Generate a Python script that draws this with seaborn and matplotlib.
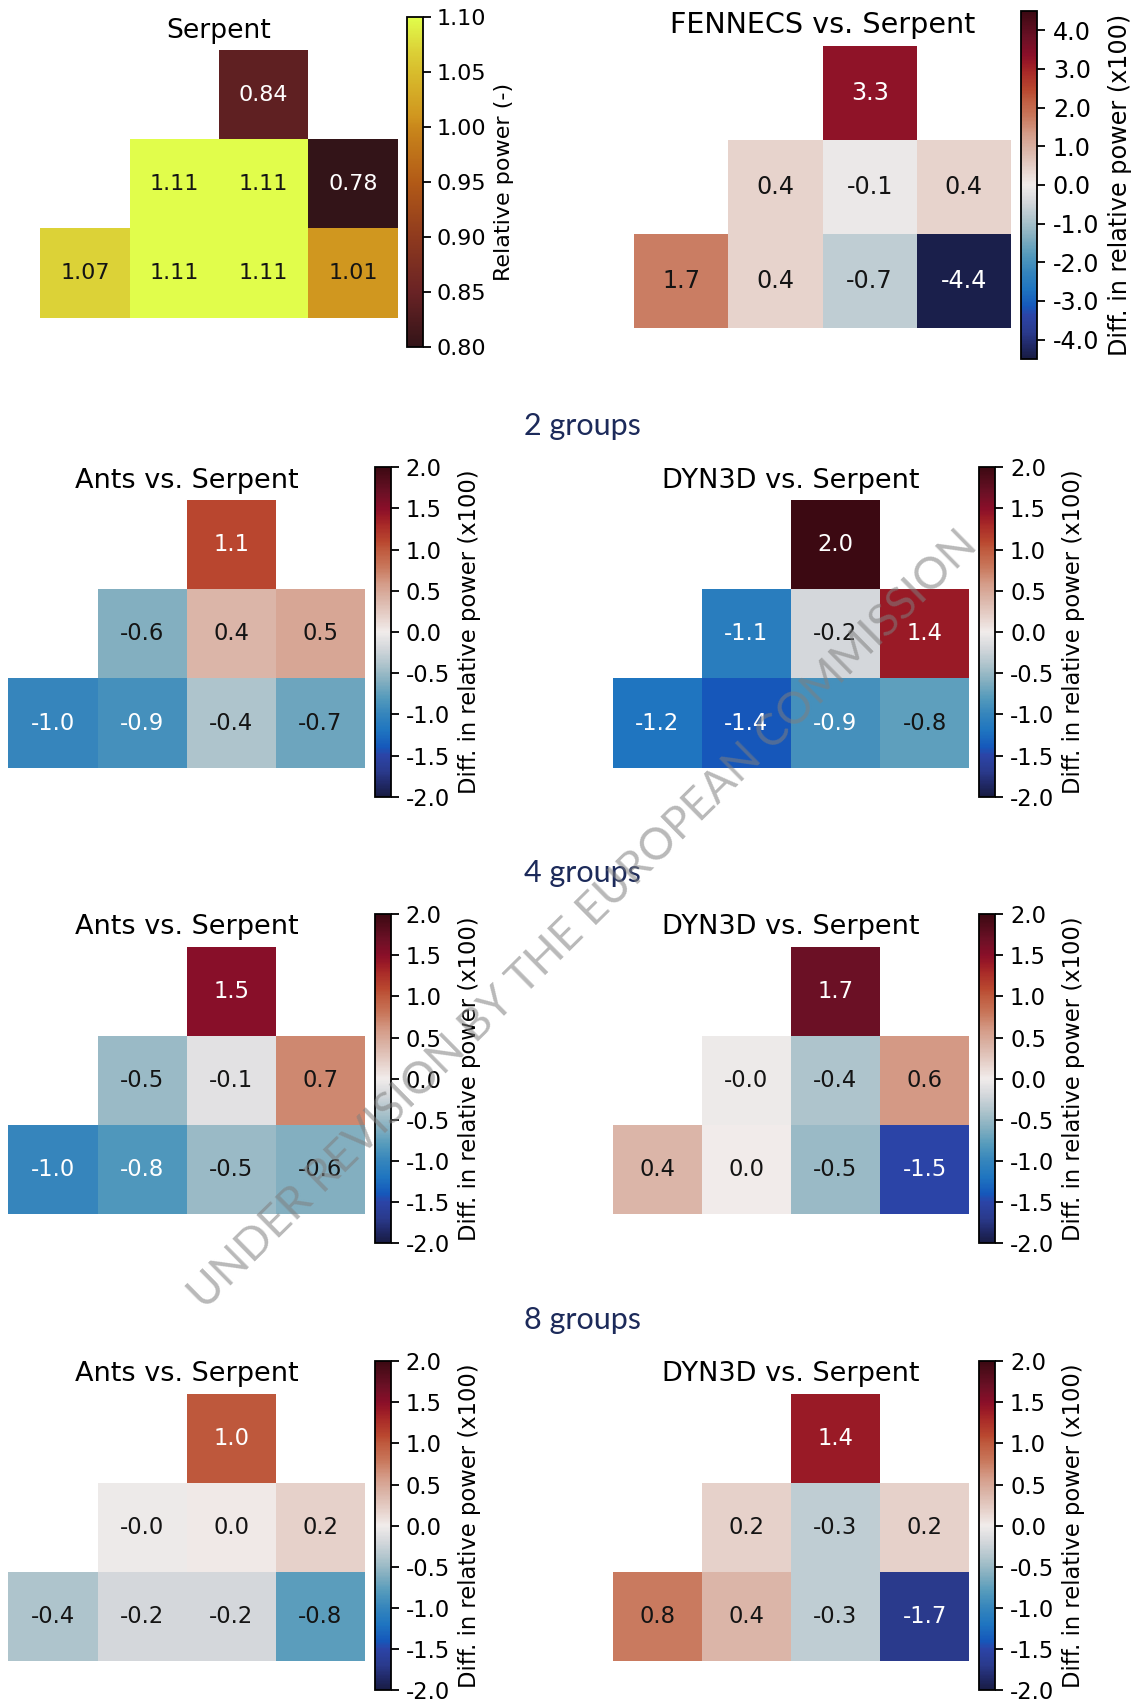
import numpy as np
import pandas as pd
import matplotlib
matplotlib.use("Agg")
import matplotlib.pyplot as plt
import seaborn as sns
from matplotlib.colors import LinearSegmentedColormap

nan = np.nan

# ---- data: quarter-core assembly maps (3 rows x 4 columns) ----
col_labels = ["A", "B", "C", "D"]

serpent_rows = [
    [nan, nan, 0.84, nan],
    [nan, 1.11, 1.11, 0.78],
    [1.07, 1.11, 1.11, 1.01],
]
fennecs_rows = [
    [nan, nan, 3.3, nan],
    [nan, 0.4, -0.1, 0.4],
    [1.7, 0.4, -0.7, -4.42],
]
ants_2g_rows = [
    [nan, nan, 1.1, nan],
    [nan, -0.6, 0.4, 0.5],
    [-1.0, -0.9, -0.4, -0.7],
]
dyn3d_2g_rows = [
    [nan, nan, 2.0, nan],
    [nan, -1.1, -0.2, 1.4],
    [-1.2, -1.4, -0.9, -0.76],
]
ants_4g_rows = [
    [nan, nan, 1.5, nan],
    [nan, -0.5, -0.1, 0.7],
    [-1.0, -0.84, -0.5, -0.6],
]
dyn3d_4g_rows = [
    [nan, nan, 1.7, nan],
    [nan, -0.02, -0.4, 0.6],
    [0.4, 0.01, -0.5, -1.5],
]
ants_8g_rows = [
    [nan, nan, 1.0, nan],
    [nan, -0.02, 0.02, 0.2],
    [-0.4, -0.2, -0.2, -0.77],
]
dyn3d_8g_rows = [
    [nan, nan, 1.4, nan],
    [nan, 0.2, -0.3, 0.2],
    [0.78, 0.4, -0.3, -1.7],
]

group_headers = ["2 groups", "4 groups", "8 groups"]
diff_label = "Diff. in relative power (x100)"
power_label = "Relative power (-)"

# ---- colormaps ----
solar_like = LinearSegmentedColormap.from_list("solar_like", [
    (0.0, "#331418"), (0.167, "#6a2325"), (0.333, "#8f3a1e"),
    (0.5, "#b25a17"), (0.667, "#c9871b"), (0.7, "#d0961f"),
    (0.833, "#d8bc2c"), (0.9, "#dcd137"), (1.0, "#e1fd4b"),
])
balance_like = LinearSegmentedColormap.from_list("balance_like", [
    (0.0, "#181c43"), (0.04, "#212a6a"), (0.075, "#2a3a8c"),
    (0.125, "#2b44a7"), (0.15, "#1558bb"), (0.2, "#1f75c0"),
    (0.25, "#3585bc"), (0.3, "#559bbc"), (0.35, "#84afc0"),
    (0.4, "#aec4cc"), (0.45, "#d3d7db"), (0.5, "#f1eceb"),
    (0.55, "#e6d0c9"), (0.6, "#dbb5a8"), (0.65, "#d49a86"),
    (0.7, "#c8765a"), (0.75, "#bf5a3e"), (0.775, "#b9472f"),
    (0.825, "#a82a28"), (0.85, "#9a1a26"), (0.875, "#8a0f29"),
    (0.925, "#6b1025"), (1.0, "#3c0912"),
])

plt.rcParams["axes.unicode_minus"] = False
plt.rcParams["font.family"] = ["DejaVu Sans"]

W, H = 1139, 1702
fig = plt.figure(figsize=(W / 100, H / 100), dpi=100)


def box(x0, y0, x1, y1):
    """Pixel box (top-left origin) -> figure fraction rect."""
    return [x0 / W, 1 - y1 / H, (x1 - x0) / W, (y1 - y0) / H]


def draw_panel(rows, title, cmap, vmin, vmax, ticks, tick_fmt, annot_fmt,
               label, heat_box, cbar_box, fs, dark_text_rule):
    grid = pd.DataFrame(rows, columns=col_labels)
    ax = fig.add_axes(box(*heat_box))
    cax = fig.add_axes(box(*cbar_box))
    sns.heatmap(grid, ax=ax, cbar_ax=cax, cmap=cmap, vmin=vmin, vmax=vmax,
                annot=True, fmt=annot_fmt, annot_kws={"size": fs},
                xticklabels=False, yticklabels=False,
                cbar_kws={"ticks": ticks, "format": tick_fmt})
    values = grid.to_numpy()
    for t in ax.texts:
        x, y = t.get_position()
        v = values[int(y), int(x)]
        t.set_color("white" if dark_text_rule(v) else "#141414")
    ax.set_title(title, fontsize=fs * 1.2, pad=fs * 0.55)
    cbar = ax.collections[0].colorbar
    cbar.outline.set_linewidth(1.3)
    cbar.outline.set_edgecolor("black")
    cbar.ax.tick_params(labelsize=fs, length=fs * 0.35, width=1.3, pad=fs * 0.3)
    cbar.set_label(label, fontsize=fs, labelpad=fs * 0.35)
    return ax


# top row: reference solution and FENNECS comparison
draw_panel(serpent_rows, "Serpent", solar_like, 0.80, 1.10,
           np.arange(0.80, 1.101, 0.05), "%.2f", ".2f", power_label,
           (40.4, 50, 397.5, 317.7), (406.5, 17.3, 422.5, 346.7), 16.0,
           lambda v: v < 0.9)
draw_panel(fennecs_rows, "FENNECS vs. Serpent", balance_like, -4.5, 4.5,
           np.arange(-4.0, 4.01, 1.0), "%.1f", ".1f", diff_label,
           (634.2, 45.7, 1010.9, 328.3), (1021, 11, 1037.3, 359), 17.2,
           lambda v: abs(v) > 1.8)

# energy-group comparisons
group_data = [
    (ants_2g_rows, dyn3d_2g_rows),
    (ants_4g_rows, dyn3d_4g_rows),
    (ants_8g_rows, dyn3d_8g_rows),
]
row_tops = [500.0, 946.7, 1393.7]
diff_ticks = np.arange(-2.0, 2.01, 0.5)
for header, (ants_rows, dyn_rows), top in zip(group_headers, group_data, row_tops):
    fig.text(582 / W, 1 - (top - 65) / H, header, ha="center", va="baseline",
             family="Lato", fontsize=22, color="#1c2a5a")
    draw_panel(ants_rows, "Ants vs. Serpent", balance_like, -2.0, 2.0,
               diff_ticks, "%.1f", ".1f", diff_label,
               (8.4, top, 365.0, top + 267.6), (375, top - 32.7, 391, top + 296.7),
               16.3, lambda v: abs(v) > 0.8)
    draw_panel(dyn_rows, "DYN3D vs. Serpent", balance_like, -2.0, 2.0,
               diff_ticks, "%.1f", ".1f", diff_label,
               (612.5, top, 969.1, top + 267.6), (978.9, top - 32.7, 995.3, top + 296.7),
               16.3, lambda v: abs(v) > 0.8)

# review watermark across the page
fig.text(583 / W, 1 - 920 / H, "UNDER REVISION BY THE EUROPEAN COMMISSION",
         rotation=44.6, ha="center", va="center", family="Lato", fontsize=32,
         color="#7f7f7f", alpha=0.55, zorder=10)

fig.savefig("out.png", dpi=100, facecolor="white")
